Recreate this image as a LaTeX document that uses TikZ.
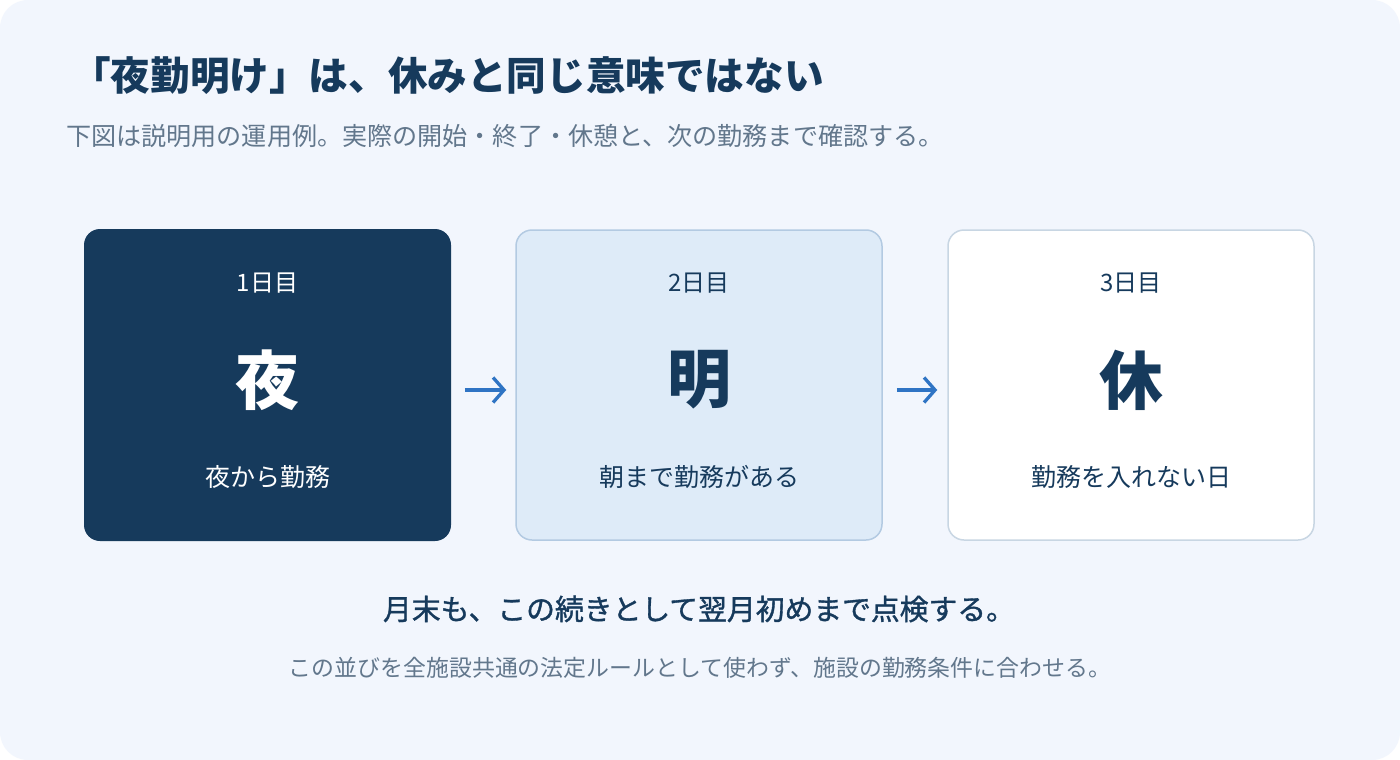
\documentclass[tikz,border=0pt]{standalone}
\usepackage{fontspec}
\setmainfont{Noto Sans CJK JP}
\newfontfamily\semibold{Noto Sans CJK JP}[FakeBold=1.2]
\usetikzlibrary{arrows.meta}
\definecolor{navy}{HTML}{163A5C}
\definecolor{bgblue}{HTML}{F2F6FD}
\definecolor{paleblue}{HTML}{DEEBF8}
\definecolor{paleborder}{HTML}{B3CAE2}
\definecolor{whiteborder}{HTML}{C8D6E3}
\definecolor{subgray}{HTML}{62778C}
\definecolor{arrowblue}{HTML}{2F74C4}
\tikzset{
  daybox/.style={rounded corners=16pt, minimum width=366pt, minimum height=310pt, inner sep=0pt, line width=1.5pt},
  daylabel/.style={inner sep=0pt, font=\fontsize{24}{28}\selectfont},
  daybig/.style={inner sep=0pt, font=\bfseries\fontsize{64}{70}\selectfont},
  daynote/.style={inner sep=0pt, font=\fontsize{25}{29}\selectfont},
  flowarrow/.style={draw=arrowblue, line width=3.3pt, -{Straight Barb[length=11pt,width=25pt,line width=3.3pt]}}
}
\begin{document}
\begin{tikzpicture}[x=1pt,y=-1pt]
\useasboundingbox (0,0) rectangle (1400,760);
\fill[white] (0,0) rectangle (1400,760);
\fill[bgblue, rounded corners=28pt] (0,0) rectangle (1400,760);

\node[anchor=west, inner sep=0pt, text=navy, font=\bfseries\fontsize{39.6}{44}\selectfont] (title) at (71,76) {「夜勤明け」は、休みと同じ意味ではない};
\node[anchor=west, inner sep=0pt, text=subgray, font=\fontsize{25.1}{29}\selectfont] (sub) at (66,136) {下図は説明用の運用例。実際の開始・終了・休憩と、次の勤務まで確認する。};

\node[daybox, fill=navy, minimum width=367pt, minimum height=312pt] (b1) at (267.5,385) {};
\node[daybox, fill=paleblue, draw=paleborder] (b2) at (699,385) {};
\node[daybox, fill=white, draw=whiteborder] (b3) at (1131,385) {};

\node[daylabel, text=white] (l1) at (267.5,283) {1日目};
\node[daybig, text=white] (k1) at (267.5,380) {夜};
\node[daynote, text=white] (n1) at (267.5,477) {夜から勤務};

\node[daylabel, text=navy] (l2) at (699,283) {2日目};
\node[daybig, text=navy] (k2) at (699,380) {明};
\node[daynote, text=navy] (n2) at (699,477) {朝まで勤務がある};

\node[daylabel, text=navy] (l3) at (1131,283) {3日目};
\node[daybig, text=navy] (k3) at (1131,380) {休};
\node[daynote, text=navy] (n3) at (1131,477) {勤務を入れない日};

\draw[flowarrow, shorten <=13pt, shorten >=9pt] ([yshift=-5pt]b1.east) -- ([yshift=-5pt]b2.west);
\draw[flowarrow, shorten <=14pt, shorten >=10pt] ([yshift=-5pt]b2.east) -- ([yshift=-5pt]b3.west);

\node[inner sep=0pt, text=navy, font=\semibold\fontsize{28.8}{33}\selectfont] (sum) at (699,609) {月末も、この続きとして翌月初めまで点検する。};
\node[inner sep=0pt, text=subgray, font=\fontsize{22.9}{27}\selectfont] (note) at (700,668) {この並びを全施設共通の法定ルールとして使わず、施設の勤務条件に合わせる。};
\end{tikzpicture}
\end{document}
